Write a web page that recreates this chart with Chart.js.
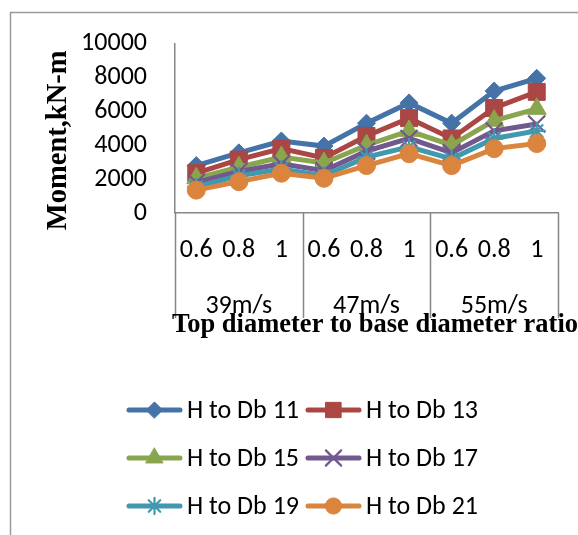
<!DOCTYPE html>
<html><head><meta charset="utf-8">
<script src="https://cdn.jsdelivr.net/npm/chart.js@4/dist/chart.umd.min.js"></script>
<style>html,body{margin:0;padding:0;background:#fff;} #wrap{width:578px;height:535px;position:relative;overflow:hidden}</style>
</head><body><div id="wrap"><canvas id="c" width="578" height="535"></canvas></div>
<script>
// ---- data ----
const ratioLabels = ['0.6','0.8','1','0.6','0.8','1','0.6','0.8','1'];
const speedGroups = ['39m/s','47m/s','55m/s'];
const yTicks = [0, 2000, 4000, 6000, 8000, 10000];
const seriesNames = ['H to Db 11','H to Db 13','H to Db 15','H to Db 17','H to Db 19','H to Db 21'];
const hdb11 = [2800, 3550, 4250, 3950, 5300, 6500, 5300, 7200, 7950];
const hdb13 = [2350, 3150, 3800, 3250, 4550, 5600, 4400, 6200, 7150];
const hdb15 = [2050, 2700, 3300, 2950, 4000, 4850, 4000, 5450, 6150];
const hdb17 = [1800, 2450, 2900, 2500, 3650, 4400, 3550, 4850, 5250];
const hdb19 = [1550, 2200, 2600, 2200, 3300, 3900, 3200, 4400, 4850];
const hdb21 = [1350, 1850, 2350, 2050, 2800, 3500, 2800, 3800, 4100];
const yTitle = 'Moment,kN-m';
const xTitle = 'Top diameter to base diameter ratio';

// ---- styles ----
const colors = ['#4572A7','#AA4643','#89A54E','#71588F','#4198AF','#DB843D'];
const styles = ['rectRot','rect','triangle','crossRot','star','circle'];
const radii = [9, 12, 11, 12, 9, 9];
const pbw = [1, 1, 1, 2.2, 2.2, 1];
const seriesData = [hdb11, hdb13, hdb15, hdb17, hdb19, hdb21];
const sansFont = 'Carlito, Calibri, Lato, sans-serif';
const serifFont = '"Liberation Serif", "Times New Roman", serif';
const sansSize = 26;

const datasets = seriesNames.map((n, i) => ({
  label: n,
  data: seriesData[i],
  borderColor: colors[i],
  backgroundColor: colors[i],
  pointBackgroundColor: colors[i],
  pointBorderColor: colors[i],
  pointStyle: styles[i],
  pointRadius: radii[i],
  pointBorderWidth: pbw[i],
  borderWidth: 5,
  tension: 0,
  order: 6 - i
}));

const decor = {
  id: 'decor',
  beforeDraw(chart) {
    const c = chart.ctx;
    c.save();
    c.fillStyle = '#fff';
    c.fillRect(0, 0, chart.width, chart.height);
    c.strokeStyle = '#9a9a9a';
    c.lineWidth = 1.5;
    c.strokeRect(10.5, 12.5, chart.width + 40, chart.height + 40);
    c.restore();
  },
  afterDraw(chart) {
    const c = chart.ctx, a = chart.chartArea, xs = chart.scales.x;
    c.save();
    // group dividers and labels
    c.strokeStyle = '#868686';
    c.lineWidth = 1.5;
    for (let g = 0; g <= speedGroups.length; g++) {
      const x = Math.round(xs.getPixelForValue(g * 3 - 0.5)) + 0.5;
      c.beginPath(); c.moveTo(x, a.bottom); c.lineTo(x, a.bottom + 105); c.stroke();
    }
    c.fillStyle = '#000';
    c.font = sansSize + 'px ' + sansFont;
    c.textAlign = 'center'; c.textBaseline = 'middle';
    speedGroups.forEach((s, g) => {
      c.fillText(s, xs.getPixelForValue(g * 3 + 1), a.bottom + 93);
    });
    // x title
    c.font = 'bold 26.5px ' + serifFont;
    c.textAlign = 'left';
    c.fillText(xTitle, a.left - 3, a.bottom + 112);
    // y title
    c.save();
    c.translate(59, (a.top + a.bottom) / 2 + 12);
    c.rotate(-Math.PI / 2);
    c.font = 'bold 28.5px ' + serifFont;
    c.textAlign = 'center';
    c.fillText(yTitle, 0, 0);
    c.restore();
    // legend
    c.font = sansSize + 'px ' + sansFont;
    const textW = Math.max(...seriesNames.map(n => c.measureText(n).width));
    const sample = 55, gap = 5, colW = sample + gap + textW + 7;
    const startX = 306 - colW;
    seriesNames.forEach((n, i) => {
      const col = i % 2, row = Math.floor(i / 2);
      const x0 = startX + col * colW, y = a.bottom + 197 + row * 48;
      c.strokeStyle = colors[i]; c.lineWidth = 5; c.lineCap = 'round';
      c.beginPath(); c.moveTo(x0 + 2, y); c.lineTo(x0 + sample - 2, y); c.stroke();
      c.fillStyle = colors[i]; c.strokeStyle = colors[i]; c.lineWidth = pbw[i];
      Chart.helpers.drawPoint(c, {pointStyle: styles[i], radius: radii[i] * 0.9, borderWidth: pbw[i], rotation: 0}, x0 + sample / 2, y);
      c.fillStyle = '#000'; c.textAlign = 'left'; c.textBaseline = 'middle';
      c.fillText(n, x0 + sample + gap, y + 1);
    });
    c.restore();
  }
};

new Chart(document.getElementById('c'), {
  type: 'line',
  data: { labels: ratioLabels, datasets },
  options: {
    responsive: false,
    animation: false,
    layout: { padding: { left: 10, top: 42, right: 20, bottom: 197 } },
    plugins: { legend: { display: false }, tooltip: { enabled: false } },
    scales: {
      x: {
        offset: true,
        grid: { display: false, drawTicks: false },
        border: { color: '#868686', width: 1.5 },
        ticks: { color: '#000', font: { family: sansFont, size: sansSize }, padding: 22, maxRotation: 0, autoSkip: false },
        afterFit: s => { s.height = 125; }
      },
      y: {
        min: 0, max: 10000,
        afterBuildTicks: s => { s.ticks = yTicks.map(v => ({ value: v })); },
        grid: { display: false, drawTicks: false },
        border: { color: '#868686', width: 1.5 },
        ticks: { color: '#000', font: { family: sansFont, size: sansSize }, padding: 28, autoSkip: false, callback: v => String(v) },
        afterFit: s => { s.width = 165; }
      }
    }
  },
  plugins: [decor]
});
</script>
</body></html>
